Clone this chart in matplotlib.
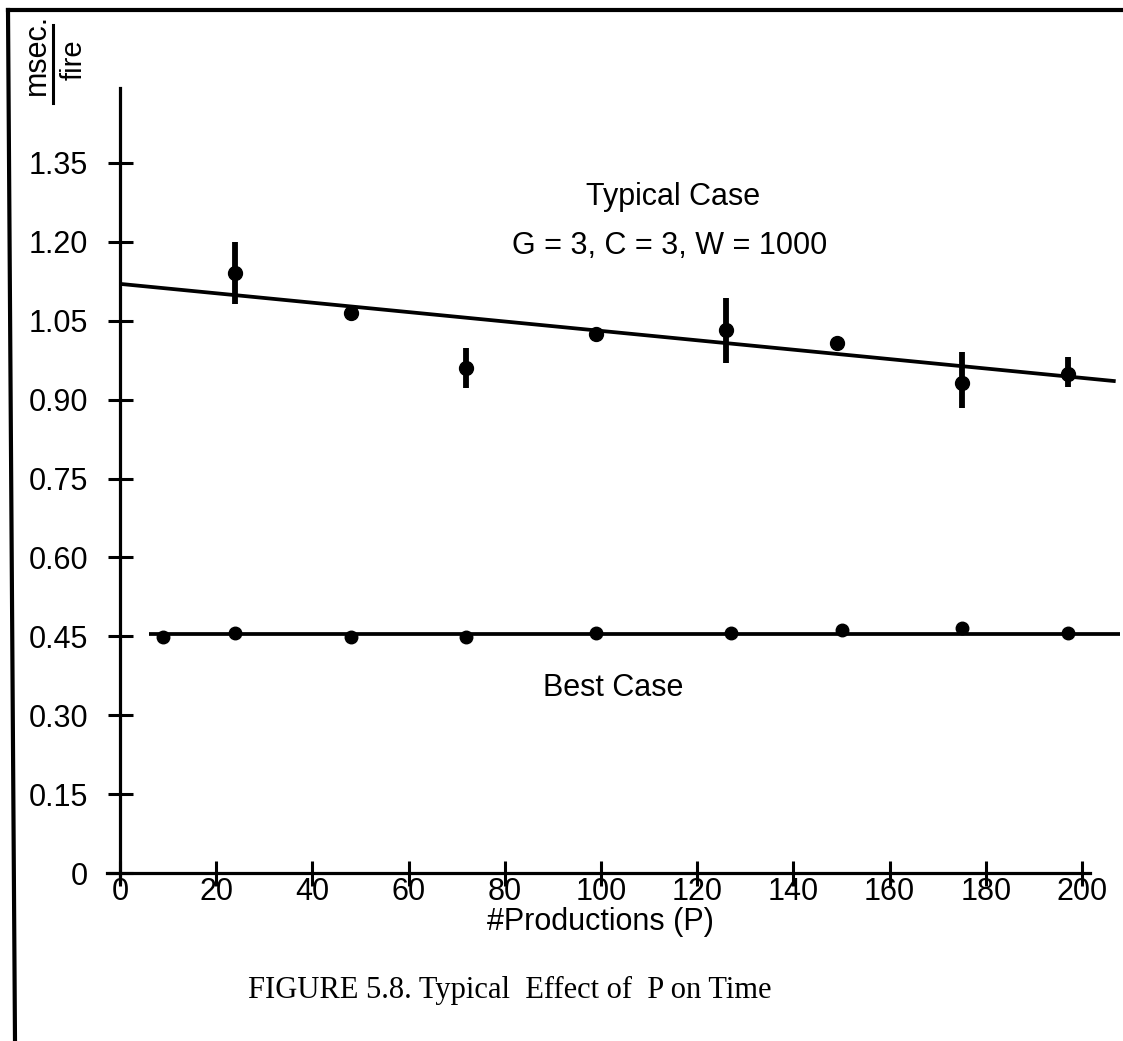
import matplotlib
matplotlib.use("Agg")
import matplotlib.pyplot as plt
from matplotlib.lines import Line2D

# ---- data ----
typ_p = [24, 48, 72, 99, 126, 149, 175, 197]
typ_v = [1.141, 1.065, 0.960, 1.025, 1.032, 1.008, 0.932, 0.949]
typ_err_lo = [0.059, 0.0, 0.038, 0.0, 0.062, 0.0, 0.048, 0.025]
typ_err_hi = [0.059, 0.0, 0.038, 0.0, 0.062, 0.0, 0.058, 0.032]
typ_fit_p = [0, 207]
typ_fit_v = [1.120, 0.935]

best_p = [9, 24, 48, 72, 99, 127, 150, 175, 197]
best_v = [0.449, 0.457, 0.449, 0.449, 0.457, 0.457, 0.462, 0.465, 0.456]
best_fit_p = [6, 208]
best_fit_v = [0.455, 0.455]

x_ticks = [0, 20, 40, 60, 80, 100, 120, 140, 160, 180, 200]
y_ticks = [0, 0.15, 0.30, 0.45, 0.60, 0.75, 0.90, 1.05, 1.20, 1.35]
y_ticklabels = ["0", "0.15", "0.30", "0.45", "0.60", "0.75", "0.90", "1.05", "1.20", "1.35"]

SANS = ["Liberation Sans", "DejaVu Sans"]
SERIF = ["Liberation Serif", "DejaVu Serif"]
plt.rcParams['font.family'] = SANS

W, H = 1123, 1041
fig = plt.figure(figsize=(W / 100, H / 100), dpi=100)

# axes placement (pixel -> figure fraction)
px_l, px_r, px_t, px_b = 100, 1120, 80, 885
ax = fig.add_axes([px_l / W, 1 - px_b / H, (px_r - px_l) / W, (px_b - px_t) / H])
ax.set_xlim(-4.16, 207.9)
ax.set_ylim(-0.0228, 1.5076)
ax.patch.set_alpha(0)

for s in ["top", "right"]:
    ax.spines[s].set_visible(False)
ax.spines["left"].set_position(("data", 0))
ax.spines["bottom"].set_position(("data", 0))
ax.spines["left"].set_bounds(-0.017, 1.492)
ax.spines["bottom"].set_bounds(-2.7, 201.7)
for s in ["left", "bottom"]:
    ax.spines[s].set_linewidth(2.3)

ax.set_xticks(x_ticks)
ax.set_xticklabels([str(t) for t in x_ticks])
ax.set_yticks(y_ticks)
ax.set_yticklabels(y_ticklabels)
ax.tick_params(axis="both", direction="inout", length=18, width=2.2,
               labelsize=22, colors="black")
ax.tick_params(axis="y", pad=14)
ax.tick_params(axis="x", pad=-6)

# typical case
ax.plot(typ_fit_p, typ_fit_v, color="black", lw=2.7, solid_capstyle="butt")
ax.errorbar(typ_p, typ_v, yerr=[typ_err_lo, typ_err_hi], fmt="o", color="black",
            ms=10, elinewidth=4.2, capsize=0)

# best case
ax.plot(best_fit_p, best_fit_v, color="black", lw=2.7, solid_capstyle="butt")
ax.plot(best_p, best_v, "o", color="black", ms=9)

ax.text(115, 1.285, "Typical Case", ha="center", va="center", fontsize=22)
ax.text(114.3, 1.192, "G = 3, C = 3, W = 1000", ha="center", va="center", fontsize=22)
ax.text(102.5, 0.352, "Best Case", ha="center", va="center", fontsize=22)
ax.text(99.8, -0.093, "#Productions (P)", ha="center", va="center", fontsize=22)

# rotated unit label msec./fire
fig.text(37 / W, 1 - 54 / H, "msec.", rotation=90, ha="center", va="center", fontsize=22)
fig.text(74 / W, 1 - 60 / H, "fire", rotation=90, ha="center", va="center", fontsize=21)
fig.add_artist(Line2D([53 / W, 53 / W], [1 - 25 / H, 1 - 103 / H], color="black", lw=2.2))

# caption
fig.text(510 / W, 1 - 990 / H, "FIGURE 5.8. Typical  Effect of  P on Time",
         ha="center", va="center", fontsize=22, family=SERIF)

# page border (left + top)
fig.add_artist(Line2D([8 / W, 15 / W], [1 - 10 / H, 0], color="black", lw=3))
fig.add_artist(Line2D([8 / W, 1.0], [1 - 10 / H, 1 - 10 / H], color="black", lw=3))

fig.savefig("out.png", dpi=100)
